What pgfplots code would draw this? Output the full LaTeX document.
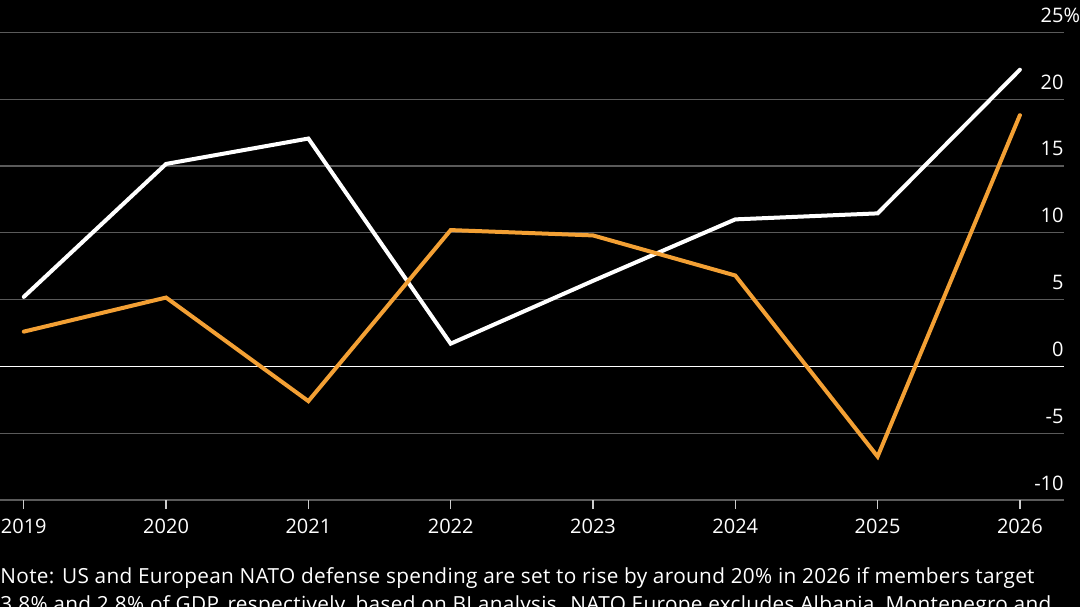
\documentclass[border=0pt]{standalone}
\usepackage{fontspec}
\setmainfont{Open Sans}
\newfontfamily\notefont[LetterSpace=1.5]{Open Sans}
\usepackage{pgfplots}
\pgfplotsset{compat=1.18}
\definecolor{lineorange}{RGB}{243,160,52}
\definecolor{gridgray}{RGB}{90,90,90}
\begin{document}
\fontsize{10}{14}\selectfont
\begin{tikzpicture}
\fill[black] (0,0) rectangle (540pt,303.5pt);
\begin{axis}[
  at={(0pt,53.5pt)}, anchor=south west,
  scale only axis, width=532pt, height=233.85pt,
  xmin=2018.833, xmax=2026.31, ymin=-10, ymax=25,
  axis line style={draw=none},
  xtick={2019,2020,2021,2022,2023,2024,2025,2026},
  xticklabels={2019,2020,2021,2022,2023,2024,2025,2026},
  ytick={-10,-5,0,5,10,15,20,25},
  yticklabels={-10,-5,0,5,10,15,20,25\rlap{\%}},
  yticklabel pos=right,
  xtick pos=bottom,
  ymajorgrids, grid style={gridgray, line width=0.6pt},
  tick align=outside, major tick length=4.5pt,
  xtick style={draw=white!80!black, line width=0.6pt},
  ytick style={draw=none},
  tick label style={text=white, font=\fontsize{10}{12}\selectfont},
  xticklabel style={anchor=base, inner sep=0pt, yshift=-12pt},
  yticklabel style={anchor=base east, inner sep=0pt, xshift=-4.5pt, yshift=5pt},
  extra y ticks={0}, extra y tick labels={},
  extra y tick style={grid style={white, line width=0.8pt}},
]
\addplot[white, line width=2pt, line cap=round] coordinates {
 (2019,5.2) (2020,15.15) (2021,17.05) (2022,1.7) (2023,6.4) (2024,11.0) (2025,11.45) (2026,22.2)};
\addplot[lineorange, line width=2pt, line cap=round] coordinates {
 (2019,2.6) (2020,5.15) (2021,-2.6) (2022,10.2) (2023,9.8) (2024,6.8) (2025,-6.75) (2026,18.8)};
\end{axis}
\node[anchor=base west, inner sep=0pt, text=white, align=left, font=\notefont\fontsize{10.4}{14}\selectfont] at (0pt,-2pt)
 {Note: US and European NATO defense spending are set to rise by around 20\% in 2026 if members target\\
  3.8\% and 2.8\% of GDP, respectively, based on BI analysis. NATO Europe excludes Albania, Montenegro and};
\pgfresetboundingbox
\useasboundingbox (0,0) rectangle (540pt,303.5pt);
\end{tikzpicture}
\end{document}
